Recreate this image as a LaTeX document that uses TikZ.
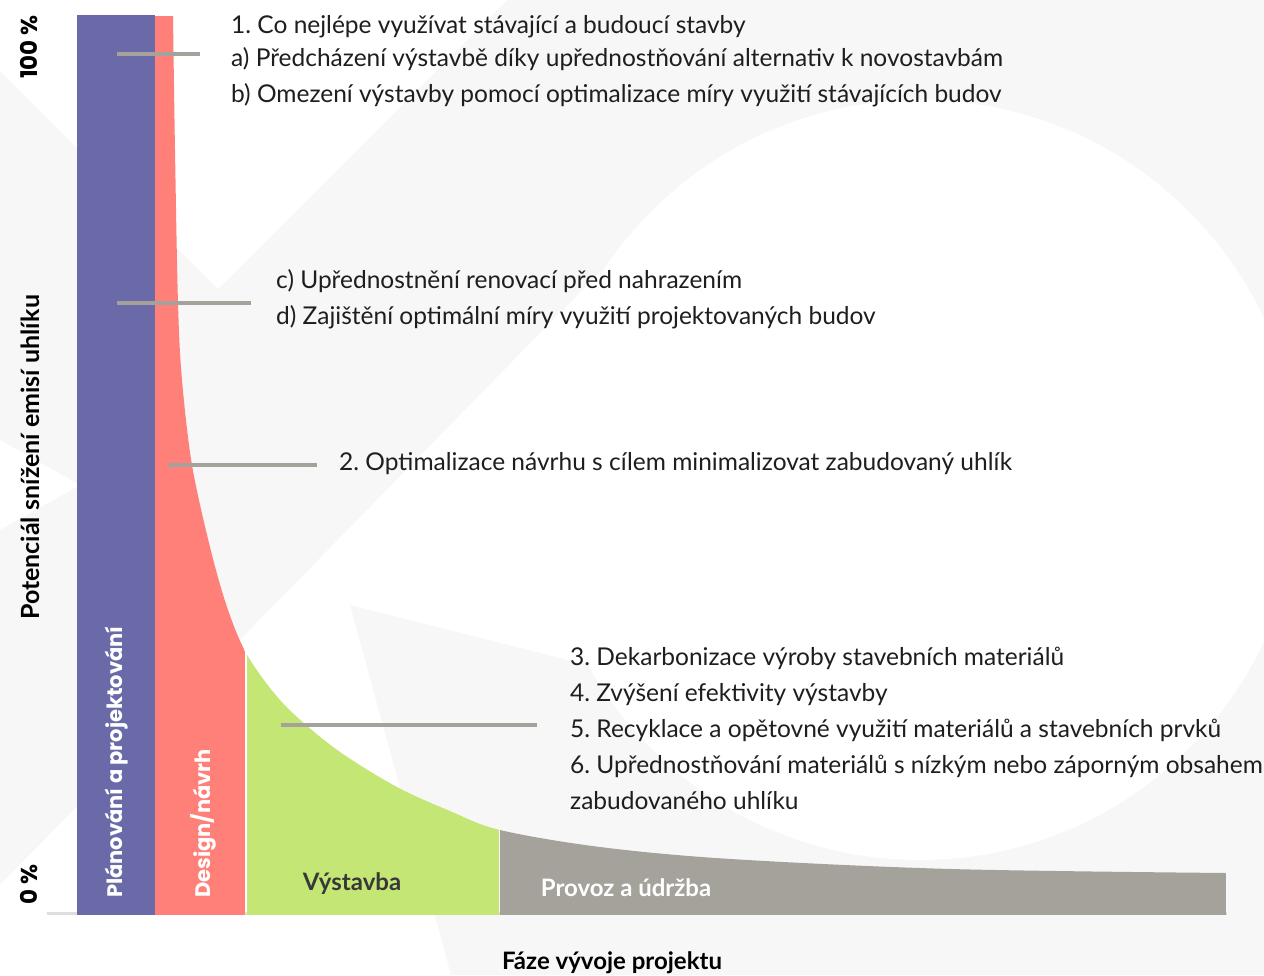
\documentclass[tikz,border=0pt]{standalone}
\usepackage{fontspec}
\setmainfont{Lato}
\newfontfamily\geofont{Poppins}
\usetikzlibrary{positioning}
\frenchspacing

\definecolor{plancol}{HTML}{6A6AA9}
\definecolor{designcol}{HTML}{FF7F79}
\definecolor{buildcol}{HTML}{C4E674}
\definecolor{usecol}{HTML}{A5A29B}
\definecolor{leadcol}{HTML}{A5A29B}
\definecolor{markcol}{HTML}{F7F7F7}
\definecolor{axiscol}{HTML}{DEDEDE}
\definecolor{txtcol}{HTML}{1E1E1E}

\begin{document}
\begin{tikzpicture}[x=1pt,y=-1pt,
  item/.style={anchor=base west,inner sep=0pt,text=txtcol,
    font=\fontsize{24.5}{28}\selectfont},
  leader/.style={draw=leadcol,line width=4.5pt},
  phase/.style={rotate=90,anchor=west,inner sep=0pt,text=white,
    font=\geofont\bfseries\fontsize{21}{24}\selectfont},
  axislabel/.style={rotate=90,anchor=west,inner sep=0pt,text=black,
    font=\bfseries\fontsize{25}{28}\selectfont},
  stagelabel/.style={inner sep=0pt,font=\bfseries\fontsize{24}{28}\selectfont}]
  \useasboundingbox (0,0) rectangle (1264,975);

  % faint logo in the background
  \fill[markcol] (0,0) rectangle (1264,975);
  \fill[white] (0,0) -- (0,71) -- (218,289) -- (507,0) -- cycle;
  \fill[white] (0,440) -- (80,485) -- (0,530) -- cycle;
  \fill[white] (920,480) circle[radius=380];
  \fill[white] (600,272) -- (600,668) -- (350,605) -- (451,975) -- (0,975) -- (0,885) -- cycle;

  % axis
  \coordinate (origin) at (47,913.5);
  \coordinate (xend) at (1227,913.5);
  \draw[axiscol,line width=2.5pt] (origin) -- (xend);

  % phases
  \fill[plancol] (77,15) rectangle (155,915);
  \begin{scope}
    \clip (155,16) -- (173,16) -- plot[smooth,tension=0.55] coordinates {
      (173,16) (175,150) (178,303) (182,380) (192,465) (210,547) (227,607)
      (245,651) (270,688) (297,717) (340,752) (397,787) (450,811) (500,830)
      (600,847) (731,859) (951,869) (1226,873)}
      -- (1226,915) -- (155,915) -- cycle;
    \fill[designcol] (155,0) rectangle (245,915);
    \fill[buildcol] (246.5,0) rectangle (499,915);
    \fill[usecol] (500,0) rectangle (1226,915);
  \end{scope}

  % leaders
  \coordinate (lead1) at (117,54);
  \coordinate (lead2) at (117,303);
  \coordinate (lead3) at (168,465);
  \coordinate (lead4) at (281,725);
  \draw[leader] (lead1) -- ++(83,0);
  \draw[leader] (lead2) -- ++(134,0);
  \draw[leader] (lead3) -- ++(149,0);
  \draw[leader] (lead4) -- ++(256,0);

  % measures
  \node[item] (item1) at (231,33) {1. Co nejlépe využívat stávající a budoucí stavby};
  \node[item] (itema) at (231,66) {a) Předcházení výstavbě díky upřednostňování alternativ k novostavbám};
  \node[item] (itemb) at (231,102) {b) Omezení výstavby pomocí optimalizace míry využití stávajících budov};
  \node[item] (itemc) at (276,288) {c) Upřednostnění renovací před nahrazením};
  \node[item] (itemd) at (276,324) {d) Zajištění optimální míry využití projektovaných budov};
  \node[item] (item2) at (339,470) {2. Optimalizace návrhu s cílem minimalizovat zabudovaný uhlík};
  \node[item] (item3) at (570,665) {3. Dekarbonizace výroby stavebních materiálů};
  \node[item] (item4) at (570,701) {4. Zvýšení efektivity výstavby};
  \node[item] (item5) at (570,737) {5. Recyklace a opětovné využití materiálů a stavebních prvků};
  \node[item] (item6) at (570,773) {6. Upřednostňování materiálů s nízkým nebo záporným obsahem};
  \node[item] (item6b) at (570,809) {zabudovaného uhlíku};

  % labels
  \node[phase] (plan) at (117,898) {Plánování a projektování};
  \node[phase] (design) at (203,898) {Design/návrh};
  \node[stagelabel,text=black!78] (build) at (352,884) {Výstavba};
  \node[stagelabel,text=white] (use) at (626,888) {Provoz a údržba};
  \node[axislabel] (ylabel) at (30,620) {Potenciál snížení emisí uhlíku};
  \node[axislabel,font=\geofont\bfseries\fontsize{23}{26}\selectfont] (top) at (29,79) {100 \%};
  \node[axislabel,font=\geofont\bfseries\fontsize{23}{26}\selectfont] (zero) at (29,905) {0 \%};
  \node[stagelabel,text=black] (xlabel) at (612,963) {Fáze vývoje projektu};
\end{tikzpicture}
\end{document}
